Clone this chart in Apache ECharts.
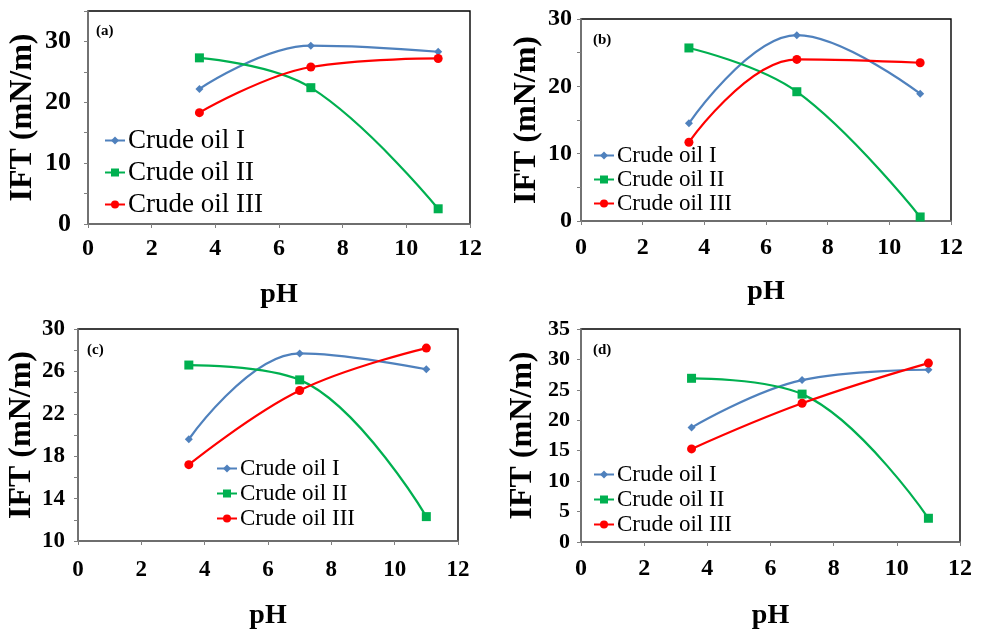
<!DOCTYPE html>
<html>
<head>
<meta charset="utf-8">
<script src="https://cdn.jsdelivr.net/npm/echarts@6/dist/echarts.min.js"></script>
<style>html,body{margin:0;padding:0;background:#fff;}#chart{width:982px;height:633px;}</style>
</head>
<body>
<div id="chart"></div>
<script>
// ---- data ----
const seriesNames = ['Crude oil I', 'Crude oil II', 'Crude oil III'];
const pH = [3.5, 7, 11];
const panelLabels = ['(a)', '(b)', '(c)', '(d)'];
// IFT (mN/m) per panel
const aOilI   = [22.2, 29.3, 28.3];
const aOilII  = [27.3, 22.4, 2.5];
const aOilIII = [18.3, 25.8, 27.2];
const bOilI   = [14.5, 27.6, 18.9];
const bOilII  = [25.7, 19.2, 0.6];
const bOilIII = [11.7, 24.0, 23.5];
const cOilI   = [19.6, 27.7, 26.2];
const cOilII  = [26.6, 25.2, 12.3];
const cOilIII = [17.2, 24.2, 28.2];
const dOilI   = [18.8, 26.6, 28.3];
const dOilII  = [26.9, 24.3, 3.9];
const dOilIII = [15.3, 22.8, 29.4];
const xTicks = [0, 2, 4, 6, 8, 10, 12];
const yTicksA = [0, 10, 20, 30];
const yTicksB = [0, 10, 20, 30];
const yTicksC = [10, 14, 18, 22, 26, 30];
const yTicksD = [0, 5, 10, 15, 20, 25, 30, 35];

const panels = [
  [aOilI, aOilII, aOilIII],
  [bOilI, bOilII, bOilIII],
  [cOilI, cOilII, cOilIII],
  [dOilI, dOilII, dOilIII]
];
const yTickSets = [yTicksA, yTicksB, yTicksC, yTicksD];

// ---- layout / style ----
const FONT = '"Liberation Serif", "Times New Roman", serif';
const colors = ['#4F81BD', '#00B050', '#FF0000'];
const symbols = ['diamond', 'rect', 'circle'];
const symbolSizes = [8, 9, 9];

const layout = [
  {grid: {left: 88, top: 11, width: 382, height: 213}, y: {min: 0, max: 35, interval: 5}, yFont: 26, xFont: 24,
   yGap: 49, xGap: 57, yMargin: 17, xMargin: 13, legend: {left: 104, top: 127, fs: 27, gap: 5}, title: {left: 96, top: 24}},
  {grid: {left: 581, top: 19, width: 370, height: 202}, y: {min: 0, max: 30, interval: 5}, yFont: 24, xFont: 24,
   yGap: 38, xGap: 57, yMargin: 9, xMargin: 15, legend: {left: 593, top: 144, fs: 23, gap: 1}, title: {left: 593, top: 33}},
  {grid: {left: 78, top: 329, width: 380, height: 212}, y: {min: 10, max: 30, interval: 2}, yFont: 23, xFont: 23,
   yGap: 39, xGap: 61, yMargin: 13, xMargin: 18, legend: {left: 216, top: 457, fs: 23, gap: 2}, title: {left: 87, top: 343}},
  {grid: {left: 581, top: 329, width: 379, height: 213}, y: {min: 0, max: 35, interval: 5}, yFont: 22, xFont: 24,
   yGap: 42, xGap: 60, yMargin: 11, xMargin: 15, legend: {left: 593, top: 463, fs: 23, gap: 2}, title: {left: 593, top: 343}}
];

const option = {
  backgroundColor: '#fff',
  animation: false,
  grid: [], xAxis: [], yAxis: [], series: [], legend: [], title: []
};

layout.forEach((L, i) => {
  option.grid.push(Object.assign({show: true, borderColor: '#000', borderWidth: 1.4, containLabel: false}, L.grid));
  option.xAxis.push({
    type: 'value', gridIndex: i, min: 0, max: 12, interval: 2,
    name: 'pH', nameLocation: 'middle', nameGap: L.xGap,
    nameTextStyle: {fontFamily: FONT, fontWeight: 'bold', fontSize: 28, color: '#000'},
    axisLine: {show: true, onZero: false, lineStyle: {color: '#7f7f7f', width: 1.5}},
    axisTick: {show: true, inside: false, length: 4, lineStyle: {color: '#7f7f7f'}},
    axisLabel: {show: true, margin: L.xMargin, fontFamily: FONT, fontWeight: 'bold', fontSize: L.xFont, color: '#000',
      formatter: v => xTicks.includes(v) ? String(v) : ''},
    splitLine: {show: false}
  });
  const ticks = yTickSets[i];
  option.yAxis.push({
    type: 'value', gridIndex: i, min: L.y.min, max: L.y.max, interval: L.y.interval,
    name: 'IFT (mN/m)', nameLocation: 'middle', nameGap: L.yGap, nameRotate: 90,
    nameTextStyle: {fontFamily: FONT, fontWeight: 'bold', fontSize: 32, color: '#000'},
    axisLine: {show: true, onZero: false, lineStyle: {color: '#7f7f7f', width: 1.5}},
    axisTick: {show: true, inside: false, length: 4, lineStyle: {color: '#7f7f7f'}},
    axisLabel: {show: true, margin: L.yMargin, fontFamily: FONT, fontWeight: 'bold', fontSize: L.yFont, color: '#000',
      formatter: v => ticks.includes(v) ? String(v) : ''},
    splitLine: {show: false}
  });
  seriesNames.forEach((name, s) => {
    option.series.push({
      type: 'line', name: name, xAxisIndex: i, yAxisIndex: i,
      data: pH.map((x, k) => [x, panels[i][s][k]]),
      smooth: 0.4,
      symbol: symbols[s], symbolSize: symbolSizes[s], showSymbol: true,
      lineStyle: {color: colors[s], width: 2.2},
      itemStyle: {color: colors[s]},
      z: 3 + s
    });
  });
  option.legend.push({
    data: seriesNames, orient: 'vertical', left: L.legend.left, top: L.legend.top,
    itemWidth: 20, itemHeight: 10, itemGap: L.legend.gap, padding: 0,
    textStyle: {fontFamily: FONT, fontSize: L.legend.fs, color: '#000', padding: [0, 0, 0, -2]},
    selectedMode: false
  });
  option.title.push({
    text: panelLabels[i], left: L.title.left, top: L.title.top, padding: 0,
    textStyle: {fontFamily: FONT, fontWeight: 'bold', fontSize: 15, color: '#000'}
  });
});

const chart = echarts.init(document.getElementById('chart'), null, {renderer: 'canvas'});
chart.setOption(option);
</script>
</body>
</html>
